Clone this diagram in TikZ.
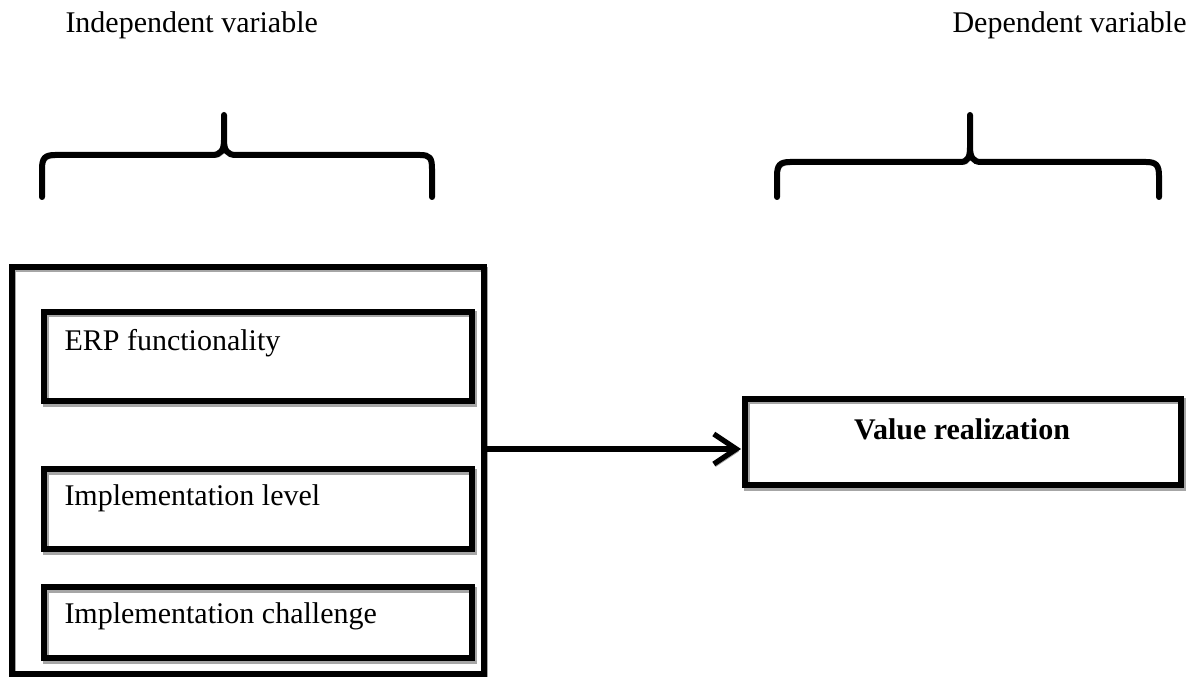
\documentclass[tikz,border=0pt]{standalone}
\usepackage{fontspec}
\setmainfont{Liberation Serif}
\usetikzlibrary{arrows.meta}
\tikzset{
  shadowed/.style={preaction={draw=black!35, transform canvas={shift={(0.7pt,-1pt)}}}},
  outerbox/.style={draw, line width=2.1pt, shadowed, minimum width=188.8pt, minimum height=162.8pt, inner sep=0pt},
  itembox/.style={draw, line width=2.4pt, shadowed, minimum width=171.2pt, inner sep=0pt},
  bracepath/.style={line width=2.4pt, line cap=round, shadowed},
  linkarrow/.style={line width=2.1pt, shadowed, -{Straight Barb[length=9pt, width=12pt, line width=2.1pt]}},
  txt/.style={anchor=base west, inner sep=0pt}
}
\begin{document}
\begin{tikzpicture}[x=0.4pt, y=-0.4pt, font=\fontsize{12}{14}\selectfont]
  \useasboundingbox (0,0) rectangle (1203,677);
  % headings
  \node[txt] (indeptitle) at (65,33) {Independent variable};
  \node[txt] (deptitle) at (952,33) {Dependent variable};
  % braces
  \draw[bracepath] (42,197) -- (42,169) .. controls (42,158) and (45,155) .. (55,155)
    -- (212,155) .. controls (221,155) and (224,150) .. (224,140) -- (224,115)
    (224,140) .. controls (224,150) and (227,155) .. (236,155)
    -- (420,155) .. controls (430,155) and (432,158) .. (432,169) -- (432,197);
  \draw[bracepath] (777,197) -- (777,176) .. controls (777,165) and (780,162) .. (790,162)
    -- (960,162) .. controls (968,162) and (970,157) .. (970,147) -- (970,115)
    (970,147) .. controls (970,157) and (973,162) .. (981,162)
    -- (1146,162) .. controls (1156,162) and (1159,165) .. (1159,176) -- (1159,197);
  % independent block
  \node[outerbox] (indep) at (248,470.5) {};
  \node[itembox, minimum height=35.6pt] (erp) at (258,356.5) {};
  \node[itembox, minimum height=32pt] (level) at (258,509) {};
  \node[itembox, minimum height=28.4pt] (challenge) at (258,622.5) {};
  \node[txt] (erptxt) at (64,351) {ERP functionality};
  \node[txt] (leveltxt) at (64,505) {Implementation level};
  \node[txt] (challengetxt) at (64,623) {Implementation challenge};
  % dependent block
  \node[itembox, minimum width=174.4pt, minimum height=34.4pt] (value) at (963,442) {};
  \node[anchor=base, inner sep=0pt] (valuetxt) at (962,439) {\bfseries Value realization};
  \coordinate (tip) at (741,449);
  \draw[linkarrow] (indep.east |- tip) -- (tip);
\end{tikzpicture}
\end{document}
